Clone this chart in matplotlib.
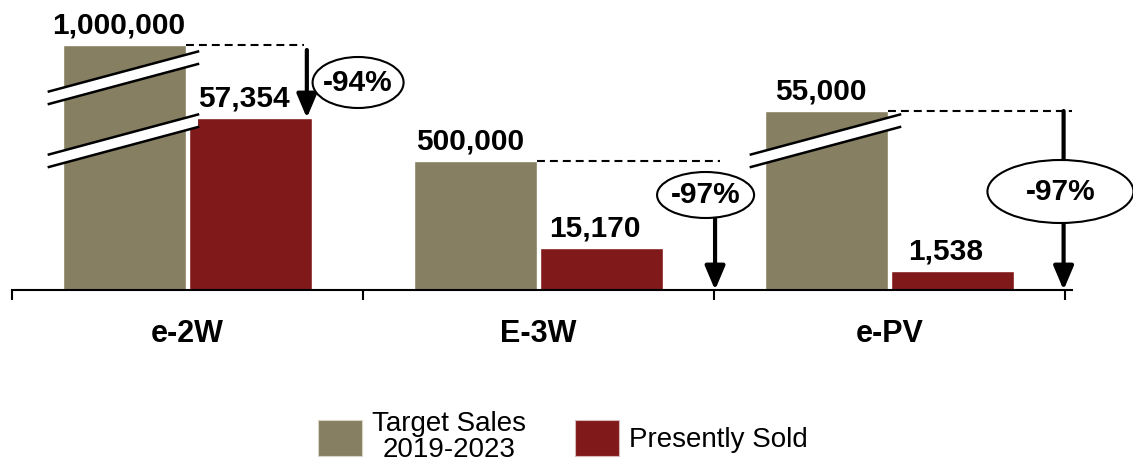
import matplotlib
matplotlib.use("Agg")
import matplotlib.pyplot as plt
from matplotlib.patches import Patch, Ellipse, Polygon

plt.rcParams['font.family'] = ['Liberation Sans', 'DejaVu Sans']

# ---- data ----
categories = ["e-2W", "E-3W", "e-PV"]
target_sales = [1000000, 500000, 55000]
presently_sold = [57354, 15170, 1538]
# chart is drawn "not to scale" (broken bars): visual bar heights
target_visual = [245, 129, 179]
sold_visual = [172, 42, 19]
legend_labels = ["Target Sales\n2019-2023", "Presently Sold"]

khaki = "#877F61"
red = "#801A1A"

W, H = 1133, 469
fig = plt.figure(figsize=(W / 100, H / 100), dpi=100)
grp = 351.0
ax = fig.add_axes([12 / W, 179 / H, 1060 / W, 290 / H])
ax.set_xlim(-0.5, -0.5 + 1060 / grp)
ax.set_ylim(0, 290)

xs = list(range(len(categories)))
bw = 0.351
ax.bar([x - 0.355 for x in xs], target_visual, width=bw, align='edge',
       color=khaki, edgecolor='white', linewidth=1, zorder=2)
ax.bar([x + 0.004 for x in xs], sold_visual, width=bw, align='edge',
       color=red, edgecolor='white', linewidth=1, zorder=2)

# value labels
for x, tv, sv, t, s in zip(xs, target_visual, sold_visual, target_sales, presently_sold):
    ax.annotate(f"{t:,}", (x - 0.18, tv), xytext=(-4, 8), textcoords='offset points',
                ha='center', va='baseline', fontsize=21.5, fontweight='bold', zorder=6)
    ax.annotate(f"{s:,}", (x + 0.18, sv), xytext=(-5, 8), textcoords='offset points',
                ha='center', va='baseline', fontsize=21.5, fontweight='bold', zorder=6)

# break marks (white slanted bands with black edges)
def break_mark(xc, y0, rise=40, thick=12.5):
    x0, x1 = xc - 0.395, xc + 0.03
    poly = Polygon([(x0, y0), (x1, y0 + rise), (x1, y0 + rise + thick), (x0, y0 + thick)],
                   closed=True, facecolor='white', edgecolor='none', zorder=4, clip_on=False)
    ax.add_patch(poly)
    ax.plot([x0, x1], [y0, y0 + rise], color='black', lw=1.8, zorder=5, clip_on=False)
    ax.plot([x0, x1], [y0 + thick, y0 + rise + thick], color='black', lw=1.8, zorder=5, clip_on=False)

break_mark(0, 186)
break_mark(0, 123)
break_mark(2, 123)

# dashed reference lines, arrows, percentage ellipses
dash_end = [0.332, 0.517, 0.524]
arrow_off = [0.34, 0.503, 0.496]
ell_spec = [  # (x offset, y, width px, height)
    (0.486, 207.5, 91, 51),
    (0.476, 95, 97, 46),
    (0.487, 98.5, 146, 63),
]
for i, x in enumerate(xs):
    tv, sv = target_visual[i], sold_visual[i]
    ax.plot([x - 0.004, x + dash_end[i]], [tv, tv], color='black', lw=1.5,
            dashes=(3.8, 2.4), zorder=3)
    xa = x + arrow_off[i]
    if i == 0:
        y_from, y_to = tv - 5, sv
    elif i == 1:
        y_from, y_to = ell_spec[i][1], 0
    else:
        y_from, y_to = tv, 0
    ax.annotate('', xy=(xa, y_to), xytext=(xa, y_from),
                arrowprops=dict(arrowstyle='-|>,head_length=0.9,head_width=0.38',
                                mutation_scale=16, lw=3, color='black',
                                shrinkA=0, shrinkB=0), zorder=5)
    ex, ey, ew, eh = ell_spec[i]
    ax.add_patch(Ellipse((x + ex, ey), ew / grp, eh, facecolor='white',
                         edgecolor='black', lw=1.5, zorder=6, clip_on=False))
    pct = round((presently_sold[i] / target_sales[i] - 1) * 100)
    ax.text(x + ex, ey, f"{pct}%", ha='center', va='center', fontsize=21.5,
            fontweight='bold', zorder=7)

# axes styling
for s in ['top', 'right', 'left']:
    ax.spines[s].set_visible(False)
ax.spines['bottom'].set_linewidth(1.5)
ax.set_yticks([])
ax.set_xticks(xs)
ax.set_xticklabels(categories, fontsize=22, fontweight='bold')
ax.tick_params(axis='x', which='major', length=0, pad=21)
ax.set_xticks([-0.5, 0.5, 1.5, 2.5], minor=True)
ax.tick_params(axis='x', which='minor', length=7.5, width=1.5, direction='out')

# legend
handles = [Patch(facecolor=khaki, edgecolor='#d8d4c8', lw=0.8),
           Patch(facecolor=red, edgecolor='#d8b8b8', lw=0.8)]
leg = fig.legend(handles, legend_labels, ncol=2, loc='center',
                 bbox_to_anchor=(563 / W, 32 / H), frameon=False, fontsize=20,
                 handlelength=1.58, handleheight=1.62, handletextpad=0.36,
                 columnspacing=1.76)
for t in leg.get_texts():
    t.set_multialignment('center')
    t.set_linespacing(1.0)

fig.savefig("out.png", dpi=100)
